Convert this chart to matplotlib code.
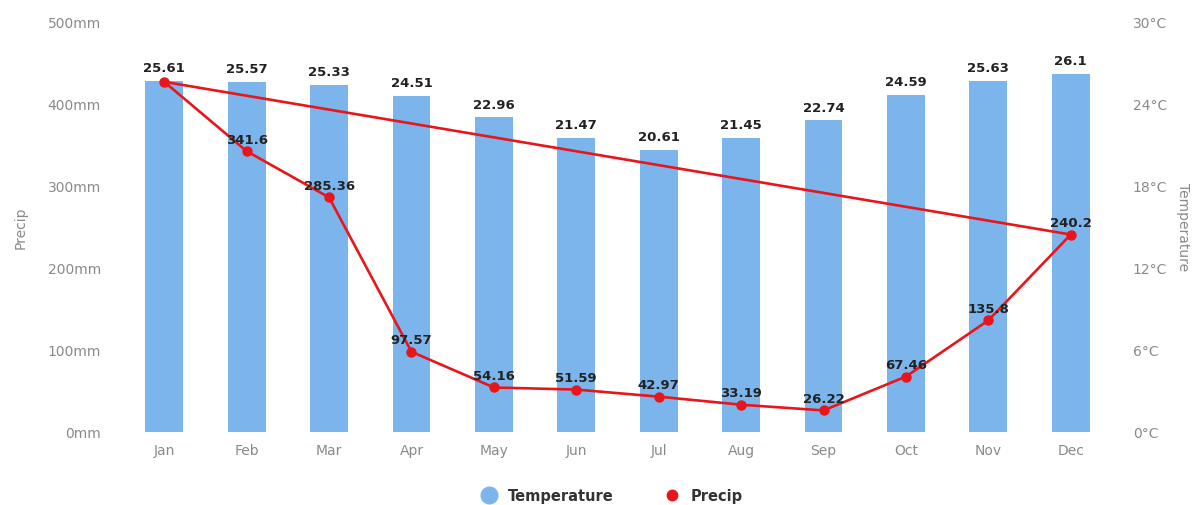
import matplotlib
matplotlib.use("Agg")
import matplotlib.pyplot as plt
import numpy as np
from matplotlib.lines import Line2D

months = ["Jan", "Feb", "Mar", "Apr", "May", "Jun", "Jul", "Aug", "Sep", "Oct", "Nov", "Dec"]
temperature = [25.61, 25.57, 25.33, 24.51, 22.96, 21.47, 20.61, 21.45, 22.74, 24.59, 25.63, 26.1]
precip = [426.0, 341.6, 285.36, 97.57, 54.16, 51.59, 42.97, 33.19, 26.22, 67.46, 135.8, 240.2]
precip_labels = ["", "341.6", "285.36", "97.57", "54.16", "51.59", "42.97", "33.19", "26.22", "67.46", "135.8", "240.2"]
left_ticks = [0, 100, 200, 300, 400, 500]
right_ticks = [0, 6, 12, 18, 24, 30]

plt.rcParams['font.family'] = ['DejaVu Sans']

fig = plt.figure(figsize=(11.98, 5.06), dpi=100)
ax = fig.add_axes([0.1027, 0.1443, 0.8255, 0.8122])
ax2 = ax.twinx()
ax.set_zorder(ax2.get_zorder() + 1)
ax.patch.set_visible(False)

x = np.arange(len(months))
bar_color = "#7cb5ec"
red = "#e8161b"
gray = "#8a8a8a"

# bars on temperature axis
ax2.bar(x, temperature, width=0.46, color=bar_color, zorder=1)
for xi, t in zip(x, temperature):
    ax2.annotate(f"{t:g}", (xi, t), xytext=(0, 5), textcoords="offset points",
                 ha="center", va="bottom", fontsize=9.5, fontweight="bold", color="#222222")

# precip line (closed back to the first point)
xc = np.append(x, x[0])
pc = np.append(precip, precip[0])
ax.plot(xc, pc, color=red, lw=1.9, zorder=3)
ax.plot(x, precip, "o", color=red, ms=6.5, zorder=4)
for xi, p, lab in zip(x, precip, precip_labels):
    if lab:
        ax.annotate(lab, (xi, p), xytext=(0, 4), textcoords="offset points",
                    ha="center", va="bottom", fontsize=9.5, fontweight="bold", color="#222222", zorder=5)

ax.set_ylim(0, 500)
ax2.set_ylim(0, 30)
ax.set_xlim(-0.5, 11.5)
ax.set_yticks(left_ticks)
ax.set_yticklabels([f"{v}mm" for v in left_ticks])
ax2.set_yticks(right_ticks)
ax2.set_yticklabels([f"{v}°C" for v in right_ticks])
ax.set_xticks(x)
ax.set_xticklabels(months)

for a in (ax, ax2):
    for s in a.spines.values():
        s.set_visible(False)
ax.tick_params(axis="y", length=0, pad=16, labelsize=10, labelcolor=gray)
ax2.tick_params(axis="y", length=0, pad=15, labelsize=10, labelcolor=gray)
ax.tick_params(axis="x", length=0, pad=8, labelsize=10, labelcolor=gray)

ax.set_ylabel("Precip", color=gray, fontsize=10, labelpad=14)
ax2.set_ylabel("Temperature", color=gray, fontsize=10, rotation=270, labelpad=16)

handles = [Line2D([], [], marker="o", ls="", color=bar_color, ms=12),
           Line2D([], [], marker="o", ls="", color=red, ms=7.5)]
leg = fig.legend(handles, ["Temperature", "Precip"], loc="center", bbox_to_anchor=(0.508, 0.018),
                 ncol=2, frameon=False, handletextpad=0.3, columnspacing=3.0,
                 prop={"weight": "bold", "size": 10.5})
for t in leg.get_texts():
    t.set_color("#333333")

fig.savefig("out.png", dpi=100)
